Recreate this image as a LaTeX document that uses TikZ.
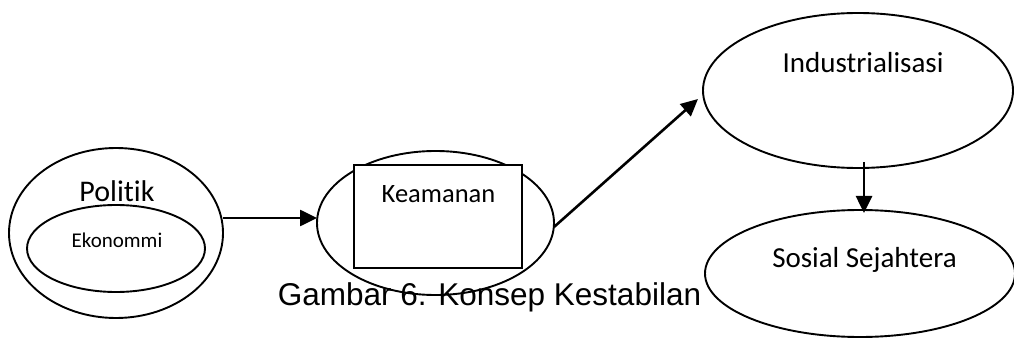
\documentclass[tikz,border=0pt]{standalone}
\usepackage{fontspec}
\setmainfont[Ligatures=NoCommon]{Carlito}
\newfontfamily\capfont{Liberation Sans}
\usetikzlibrary{shapes.geometric,arrows.meta}
\begin{document}
\begin{tikzpicture}[x=1pt,y=-1pt,
  oval/.style={ellipse,draw,line width=1.9pt,inner sep=0pt},
  lbl/.style={anchor=base,inner sep=0pt},
  conn/.style={line width=2.6pt,-{Triangle[length=17pt,width=16pt]}}]
\useasboundingbox (0,0) rectangle (1014,339);
% caption
\node[lbl,font=\capfont\fontsize{31.5}{38}\selectfont] (cap) at (489.5,305) {Gambar 6. Konsep Kestabilan};
% Politik
\node[oval,minimum width=214pt,minimum height=170pt] (pol) at (116,233) {};
\node[lbl,font=\fontsize{30}{36}\selectfont] (polt) at (117,201) {Politik};
\node[oval,minimum width=178pt,minimum height=87pt] (eko) at (116,248.5) {};
\node[lbl,font=\fontsize{21}{25}\selectfont] (ekot) at (117,247) {Ekonommi};
% Keamanan
\node[oval,minimum width=237pt,minimum height=144pt] (kea) at (435.5,223) {};
\node[draw,fill=white,line width=1.9pt,minimum width=168pt,minimum height=103pt,inner sep=0pt] (rect) at (438,216.5) {};
\node[lbl,font=\fontsize{26.5}{31}\selectfont] (keat) at (438.5,202) {Keamanan};
% Industrialisasi
\node[oval,minimum width=310pt,minimum height=155pt] (ind) at (858,90.5) {};
\node[lbl,font=\fontsize{29}{34}\selectfont] (indt) at (863,73) {Industrialisasi};
% Sosial Sejahtera
\node[oval,minimum width=310pt,minimum height=127pt] (sos) at (860,273.5) {};
\node[lbl,font=\fontsize{29}{34}\selectfont] (sost) at (864.5,267) {Sosial Sejahtera};
% connectors
\coordinate (polout) at (223,218);
\coordinate (keain) at (317,218);
\coordinate (keaout) at (554,227);
\coordinate (indin) at (698,99);
\coordinate (indout) at (864,162);
\coordinate (sosin) at (864,213);
\draw[conn] (polout) -- (keain);
\draw[conn] (keaout) -- (indin);
\draw[conn] (indout) -- (sosin);
\end{tikzpicture}
\end{document}
